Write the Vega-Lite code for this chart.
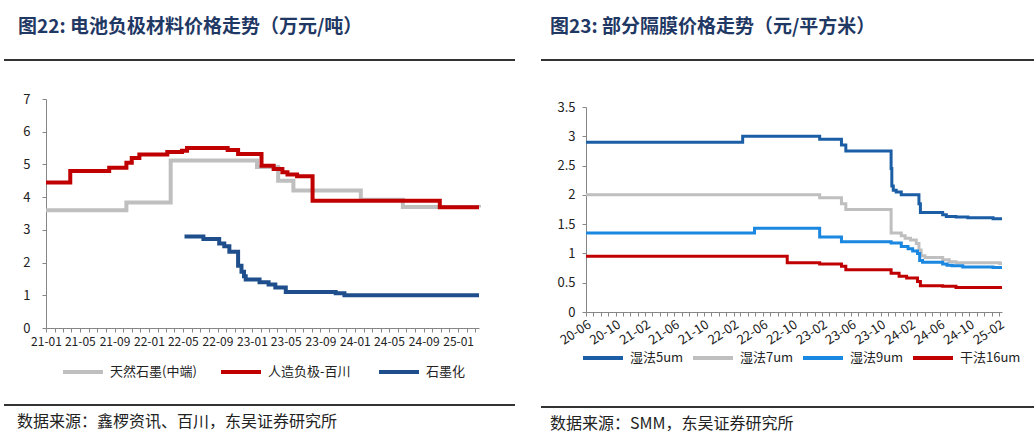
{
  "$schema": "https://vega.github.io/schema/vega-lite/v6.json",
  "background": "white",
  "padding": {"left": 3, "top": 18, "right": 0, "bottom": 10},
  "spacing": 24,
  "resolve": {"scale": {"color": "independent"}, "legend": {"color": "independent"}},
  "config": {
    "view": {"stroke": null},
    "font": "Noto Sans CJK SC",
    "axis": {"grid": false, "domainColor": "#868686", "tickColor": "#868686", "tickSize": 4, "labelColor": "#222222", "labelFontSize": 13, "labelFont": "Noto Sans CJK SC", "title": null},
    "legend": {"labelFont": "Noto Sans CJK SC", "labelFontSize": 13, "labelColor": "#222222", "symbolType": "stroke", "symbolSize": 1600, "symbolStrokeWidth": 4, "labelOffset": 5, "title": null}
  },
  "datasets": {
    "neg": [
      {"d": "2021-01-01", "s": "天然石墨(中端)", "v": 3.6},
      {"d": "2021-10-13", "s": "天然石墨(中端)", "v": 3.84},
      {"d": "2022-03-19", "s": "天然石墨(中端)", "v": 5.12},
      {"d": "2023-01-19", "s": "天然石墨(中端)", "v": 4.92},
      {"d": "2023-04-04", "s": "天然石墨(中端)", "v": 4.5},
      {"d": "2023-05-28", "s": "天然石墨(中端)", "v": 4.2},
      {"d": "2024-01-22", "s": "天然石墨(中端)", "v": 3.92},
      {"d": "2024-06-19", "s": "天然石墨(中端)", "v": 3.7},
      {"d": "2025-03-16", "s": "天然石墨(中端)", "v": 3.68},
      {"d": "2021-01-01", "s": "人造负极-百川", "v": 4.45},
      {"d": "2021-03-28", "s": "人造负极-百川", "v": 4.8},
      {"d": "2021-08-13", "s": "人造负极-百川", "v": 4.9},
      {"d": "2021-10-13", "s": "人造负极-百川", "v": 5.05},
      {"d": "2021-11-01", "s": "人造负极-百川", "v": 5.2},
      {"d": "2021-11-28", "s": "人造负极-百川", "v": 5.3},
      {"d": "2022-03-07", "s": "人造负极-百川", "v": 5.38},
      {"d": "2022-04-28", "s": "人造负极-百川", "v": 5.42},
      {"d": "2022-05-16", "s": "人造负极-百川", "v": 5.5},
      {"d": "2022-10-07", "s": "人造负极-百川", "v": 5.44},
      {"d": "2022-11-13", "s": "人造负极-百川", "v": 5.32},
      {"d": "2023-02-04", "s": "人造负极-百川", "v": 4.96},
      {"d": "2023-03-19", "s": "人造负极-百川", "v": 4.86},
      {"d": "2023-04-19", "s": "人造负极-百川", "v": 4.76},
      {"d": "2023-05-07", "s": "人造负极-百川", "v": 4.69},
      {"d": "2023-06-10", "s": "人造负极-百川", "v": 4.64},
      {"d": "2023-08-04", "s": "人造负极-百川", "v": 3.89},
      {"d": "2024-10-28", "s": "人造负极-百川", "v": 3.69},
      {"d": "2025-03-16", "s": "人造负极-百川", "v": 3.69},
      {"d": "2022-05-07", "s": "石墨化", "v": 2.8},
      {"d": "2022-07-13", "s": "石墨化", "v": 2.72},
      {"d": "2022-09-07", "s": "石墨化", "v": 2.58},
      {"d": "2022-09-25", "s": "石墨化", "v": 2.5},
      {"d": "2022-10-13", "s": "石墨化", "v": 2.33},
      {"d": "2022-11-13", "s": "石墨化", "v": 1.9},
      {"d": "2022-11-25", "s": "石墨化", "v": 1.72},
      {"d": "2022-12-04", "s": "石墨化", "v": 1.58},
      {"d": "2022-12-10", "s": "石墨化", "v": 1.48},
      {"d": "2023-01-28", "s": "石墨化", "v": 1.4},
      {"d": "2023-03-01", "s": "石墨化", "v": 1.33},
      {"d": "2023-03-25", "s": "石墨化", "v": 1.24},
      {"d": "2023-05-01", "s": "石墨化", "v": 1.1},
      {"d": "2023-10-25", "s": "石墨化", "v": 1.06},
      {"d": "2023-11-25", "s": "石墨化", "v": 1.0},
      {"d": "2025-03-16", "s": "石墨化", "v": 1.0}
    ],
    "sep": [
      {"d": "2020-06-01", "s": "湿法5um", "v": 2.9},
      {"d": "2022-03-10", "s": "湿法5um", "v": 3.0},
      {"d": "2023-01-22", "s": "湿法5um", "v": 2.95},
      {"d": "2023-04-22", "s": "湿法5um", "v": 2.85},
      {"d": "2023-05-10", "s": "湿法5um", "v": 2.75},
      {"d": "2023-11-13", "s": "湿法5um", "v": 2.45},
      {"d": "2023-11-16", "s": "湿法5um", "v": 2.15},
      {"d": "2023-11-22", "s": "湿法5um", "v": 2.08},
      {"d": "2023-12-04", "s": "湿法5um", "v": 2.05},
      {"d": "2023-12-25", "s": "湿法5um", "v": 2.0},
      {"d": "2024-03-07", "s": "湿法5um", "v": 1.85},
      {"d": "2024-03-13", "s": "湿法5um", "v": 1.7},
      {"d": "2024-06-13", "s": "湿法5um", "v": 1.66},
      {"d": "2024-06-28", "s": "湿法5um", "v": 1.63},
      {"d": "2024-08-07", "s": "湿法5um", "v": 1.62},
      {"d": "2024-09-25", "s": "湿法5um", "v": 1.61},
      {"d": "2025-01-07", "s": "湿法5um", "v": 1.59},
      {"d": "2025-02-13", "s": "湿法5um", "v": 1.59},
      {"d": "2020-06-01", "s": "湿法7um", "v": 2.0},
      {"d": "2023-01-22", "s": "湿法7um", "v": 1.95},
      {"d": "2023-04-22", "s": "湿法7um", "v": 1.85},
      {"d": "2023-05-10", "s": "湿法7um", "v": 1.75},
      {"d": "2023-11-13", "s": "湿法7um", "v": 1.35},
      {"d": "2023-12-25", "s": "湿法7um", "v": 1.3},
      {"d": "2024-01-10", "s": "湿法7um", "v": 1.26},
      {"d": "2024-02-01", "s": "湿法7um", "v": 1.23},
      {"d": "2024-02-25", "s": "湿法7um", "v": 1.17},
      {"d": "2024-03-07", "s": "湿法7um", "v": 1.06},
      {"d": "2024-03-16", "s": "湿法7um", "v": 0.96},
      {"d": "2024-04-01", "s": "湿法7um", "v": 0.93},
      {"d": "2024-06-13", "s": "湿法7um", "v": 0.89},
      {"d": "2024-07-10", "s": "湿法7um", "v": 0.86},
      {"d": "2024-08-07", "s": "湿法7um", "v": 0.84},
      {"d": "2025-02-04", "s": "湿法7um", "v": 0.83},
      {"d": "2025-02-13", "s": "湿法7um", "v": 0.83},
      {"d": "2020-06-01", "s": "湿法9um", "v": 1.35},
      {"d": "2022-04-28", "s": "湿法9um", "v": 1.43},
      {"d": "2023-01-22", "s": "湿法9um", "v": 1.28},
      {"d": "2023-04-22", "s": "湿法9um", "v": 1.2},
      {"d": "2023-11-13", "s": "湿法9um", "v": 1.18},
      {"d": "2023-12-25", "s": "湿法9um", "v": 1.12},
      {"d": "2024-01-22", "s": "湿法9um", "v": 1.08},
      {"d": "2024-02-10", "s": "湿法9um", "v": 1.04},
      {"d": "2024-03-01", "s": "湿法9um", "v": 1.0},
      {"d": "2024-03-10", "s": "湿法9um", "v": 0.88},
      {"d": "2024-03-22", "s": "湿法9um", "v": 0.85},
      {"d": "2024-06-13", "s": "湿法9um", "v": 0.82},
      {"d": "2024-07-01", "s": "湿法9um", "v": 0.8},
      {"d": "2024-07-22", "s": "湿法9um", "v": 0.79},
      {"d": "2024-09-04", "s": "湿法9um", "v": 0.77},
      {"d": "2025-01-07", "s": "湿法9um", "v": 0.76},
      {"d": "2025-02-13", "s": "湿法9um", "v": 0.76},
      {"d": "2020-06-01", "s": "干法16um", "v": 0.95},
      {"d": "2022-09-10", "s": "干法16um", "v": 0.84},
      {"d": "2023-01-22", "s": "干法16um", "v": 0.82},
      {"d": "2023-04-22", "s": "干法16um", "v": 0.78},
      {"d": "2023-05-10", "s": "干法16um", "v": 0.72},
      {"d": "2023-11-13", "s": "干法16um", "v": 0.66},
      {"d": "2023-12-16", "s": "干法16um", "v": 0.61},
      {"d": "2024-01-16", "s": "干法16um", "v": 0.58},
      {"d": "2024-03-01", "s": "干法16um", "v": 0.52},
      {"d": "2024-03-13", "s": "干法16um", "v": 0.45},
      {"d": "2024-06-13", "s": "干法16um", "v": 0.44},
      {"d": "2024-08-07", "s": "干法16um", "v": 0.42},
      {"d": "2025-02-13", "s": "干法16um", "v": 0.42}
    ]
  },
  "hconcat": [
    {
      "resolve": {"scale": {"color": "independent"}, "legend": {"color": "independent"}},
      "vconcat": [
        {
          "width": 511, "height": 28,
          "data": {"values": [{}]},
          "title": {"text": "图22:  电池负极材料价格走势（万元/吨）", "anchor": "start", "dx": 15, "offset": 4, "fontSize": 19, "fontWeight": "bold", "color": "#1F3864", "font": "Noto Sans CJK SC"},
          "mark": {"type": "rule", "color": "#333333", "strokeWidth": 2},
          "encoding": {"y": {"datum": 0.32, "type": "quantitative", "scale": {"domain": [0, 1]}, "axis": null}}
        },
        {
          "width": 475, "height": 229,
          "data": {"name": "neg"},
          "encoding": {
            "x": {"field": "d", "type": "temporal",
              "scale": {"type": "utc", "range": [42, 475], "domain": [{"year": 2021, "month": 1, "date": 1, "utc": true}, {"year": 2025, "month": 3, "date": 16, "utc": true}]},
              "axis": {"tickCount": {"interval": "month", "step": 1}, "labelExpr": "utcmonth(datum.value) % 4 == 0 ? utcFormat(datum.value, '%y-%m') : ''", "labelOverlap": false, "labelAngle": 0, "labelPadding": 4, "labelFlush": false, "labelFontSize": 12}},
            "y": {"field": "v", "type": "quantitative", "scale": {"domain": [0, 7]}, "axis": {"tickCount": 7, "labelPadding": 12, "offset": -42}},
            "color": {"field": "s", "type": "nominal",
              "scale": {"domain": ["天然石墨(中端)", "人造负极-百川", "石墨化"], "range": ["#BFBFBF", "#C00000", "#1F4E8C"]},
              "legend": {"orient": "none", "direction": "horizontal", "columns": 3, "gridAlign": "all", "columnPadding": 16, "legendX": 57, "legendY": 251}}
          },
          "layer": [
            {"transform": [{"filter": "datum.s === '天然石墨(中端)'"}], "mark": {"type": "line", "interpolate": "step-after", "strokeWidth": 4}},
            {"transform": [{"filter": "datum.s === '人造负极-百川'"}], "mark": {"type": "line", "interpolate": "step-after", "strokeWidth": 4}},
            {"transform": [{"filter": "datum.s === '石墨化'"}], "mark": {"type": "line", "interpolate": "step-after", "strokeWidth": 4}}
          ]
        },
        {
          "width": 511, "height": 1,
          "data": {"values": [{}]},
          "title": {"text": "数据来源：鑫椤资讯、百川，东吴证券研究所", "orient": "bottom", "anchor": "start", "dx": 14, "offset": 8, "fontSize": 16, "fontWeight": "normal", "color": "#222222", "font": "Noto Sans CJK SC"},
          "mark": {"type": "rule", "color": "#333333", "strokeWidth": 2},
          "encoding": {"y": {"datum": 1, "type": "quantitative", "scale": {"domain": [0, 1]}, "axis": null}}
        }
      ],
      "spacing": 24
    },
    {
      "resolve": {"scale": {"color": "independent"}, "legend": {"color": "independent"}},
      "vconcat": [
        {
          "width": 494, "height": 19,
          "data": {"values": [{}]},
          "title": {"text": "图23:  部分隔膜价格走势（元/平方米）", "anchor": "start", "dx": 10, "offset": 4, "fontSize": 19, "fontWeight": "bold", "color": "#1F3864", "font": "Noto Sans CJK SC"},
          "mark": {"type": "rule", "color": "#333333", "strokeWidth": 2},
          "encoding": {"y": {"datum": 0, "type": "quantitative", "scale": {"domain": [0, 1]}, "axis": null}}
        },
        {
          "width": 461, "height": 205,
          "data": {"name": "sep"},
          "encoding": {
            "x": {"field": "d", "type": "temporal",
              "scale": {"type": "utc", "range": [45, 461], "domain": [{"year": 2020, "month": 6, "date": 1, "utc": true}, {"year": 2025, "month": 2, "date": 13, "utc": true}]},
              "axis": {"tickCount": {"interval": "month", "step": 1}, "labelExpr": "(utcyear(datum.value) * 12 + utcmonth(datum.value) - 24245) % 4 == 0 ? utcFormat(datum.value, '%y-%m') : ''", "labelOverlap": false, "labelAngle": -33, "labelAlign": "right", "labelBaseline": "top", "labelPadding": 2, "labelFlush": false}},
            "y": {"field": "v", "type": "quantitative", "scale": {"domain": [0, 3.5]}, "axis": {"values": [0, 0.5, 1, 1.5, 2, 2.5, 3, 3.5], "format": ".1~f", "labelPadding": 7, "offset": -45}},
            "color": {"field": "s", "type": "nominal",
              "scale": {"domain": ["湿法5um", "湿法7um", "湿法9um", "干法16um"], "range": ["#1B5EA6", "#BFBFBF", "#1A87E0", "#C00000"]},
              "legend": {"orient": "none", "direction": "horizontal", "columns": 4, "gridAlign": "all", "columnPadding": -14, "legendX": 40, "legendY": 229}}
          },
          "layer": [
            {"transform": [{"filter": "datum.s === '湿法5um'"}], "mark": {"type": "line", "interpolate": "step-after", "strokeWidth": 3}},
            {"transform": [{"filter": "datum.s === '湿法7um'"}], "mark": {"type": "line", "interpolate": "step-after", "strokeWidth": 3}},
            {"transform": [{"filter": "datum.s === '湿法9um'"}], "mark": {"type": "line", "interpolate": "step-after", "strokeWidth": 3}},
            {"transform": [{"filter": "datum.s === '干法16um'"}], "mark": {"type": "line", "interpolate": "step-after", "strokeWidth": 3}}
          ]
        },
        {
          "width": 494, "height": 1,
          "data": {"values": [{}]},
          "title": {"text": "数据来源：SMM，东吴证券研究所", "orient": "bottom", "anchor": "start", "dx": 10, "offset": 8, "fontSize": 16, "fontWeight": "normal", "color": "#222222", "font": "Noto Sans CJK SC"},
          "mark": {"type": "rule", "color": "#333333", "strokeWidth": 2},
          "encoding": {"y": {"datum": 1, "type": "quantitative", "scale": {"domain": [0, 1]}, "axis": null}}
        }
      ],
      "spacing": 40
    }
  ]
}
